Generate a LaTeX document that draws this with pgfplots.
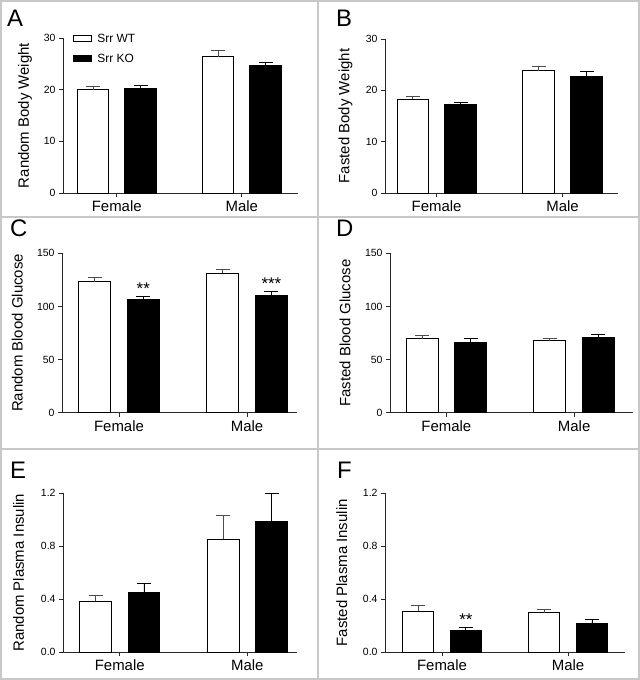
\documentclass[border=0pt]{standalone}
\usepackage{pgfplots}
\pgfplotsset{compat=1.18}
\usepackage{fontspec}
\setmainfont{Liberation Sans}
\definecolor{divider}{RGB}{200,200,200}
\definecolor{axisgray}{RGB}{40,40,40}
\pgfplotsset{
  panel/.style={
    scale only axis,
    anchor=south west,
    axis x line*=bottom, axis y line*=left,
    axis line style={axisgray, line width=0.9bp, -},
    xtick={0,1}, xticklabels={Female,Male},
    tick align=outside,
    major tick length=4bp,
    tick style={axisgray, line width=0.9bp},
    ymin=0,
    x tick label style={font=\fontsize{15}{15}\selectfont},
    y tick label style={font=\fontsize{10.5}{10.5}\selectfont},
    /pgf/number format/assume math mode=true,
    ylabel style={font=\fontsize{15}{15}\selectfont, anchor=center},
    clip=false,
  },
  wt/.style={ybar, bar width=0.25, bar shift=0pt, draw=black, fill=white, line width=0.9bp,
    error bars/y dir=plus, error bars/y explicit,
    error bars/error bar style={black!70, line width=0.9bp},
    error bars/error mark options={rotate=90, mark size=7bp, black!70, line width=0.9bp}},
  ko/.style={ybar, bar width=0.25, bar shift=0pt, draw=black, fill=black, line width=0.9bp,
    error bars/y dir=plus, error bars/y explicit,
    error bars/error bar style={black, line width=0.9bp},
    error bars/error mark options={rotate=90, mark size=7bp, black, line width=0.9bp}},
  dec/.style={yticklabel style={/pgf/number format/.cd, fixed, fixed zerofill, precision=1}},
}
\newcommand{\letterfont}{\fontsize{24}{24}\selectfont}
\newcommand{\starfont}{\fontsize{17}{17}\selectfont}
\begin{document}
\begin{tikzpicture}[x=1bp,y=1bp]
\useasboundingbox (0,0) rectangle (640,680);
% frame and dividers
\draw[divider, line width=2bp] (1,1) rectangle (638.5,678.5);
\draw[divider, line width=2bp] (318,1) -- (318,678.5);
\draw[divider, line width=2bp] (1,463) -- (638.5,463);
\draw[divider, line width=2bp] (1,231) -- (638.5,231);
% panel letters
\node[anchor=base west, inner sep=0, font=\letterfont] at (7,653.3) {A};
\node[anchor=base west, inner sep=0, font=\letterfont] at (336,653.3) {B};
\node[anchor=base west, inner sep=0, font=\letterfont] at (10,443) {C};
\node[anchor=base west, inner sep=0, font=\letterfont] at (336,443) {D};
\node[anchor=base west, inner sep=0, font=\letterfont] at (10,201.7) {E};
\node[anchor=base west, inner sep=0, font=\letterfont] at (337,201.7) {F};

% ---------- A ----------
\begin{axis}[panel, at={(63bp,487bp)}, width=235bp, height=155bp,
  xmin=-0.43, xmax=1.45, ymax=30, ytick={0,10,20,30},
  ylabel={Random Body Weight}, ylabel style={at={(axis description cs:-0.162,0.5)}},
  legend style={at={(axis description cs:0.04,1.04)}, anchor=north west, draw=none, fill=none,
    font=\fontsize{12}{12}\selectfont, row sep=6bp, column sep=4bp, inner sep=0pt},
  legend cell align=left]
\addplot[wt, /pgfplots/legend image code/.code={\draw[black, fill=white, line width=0.8bp] (0bp,-3bp) rectangle (18bp,3bp);}]
  coordinates {(-0.19,20.0) +- (0,0.6) (0.81,26.4) +- (0,1.1)};
\addlegendentry{Srr WT}
\addplot[ko, /pgfplots/legend image code/.code={\draw[black, fill=black, line width=0.8bp] (0bp,-3bp) rectangle (18bp,3bp);}]
  coordinates {(0.19,20.3) +- (0,0.6) (1.19,24.6) +- (0,0.7)};
\addlegendentry{Srr KO}
\end{axis}

% ---------- B ----------
\begin{axis}[panel, at={(385bp,487bp)}, width=233bp, height=154bp,
  xmin=-0.41, xmax=1.44, ymax=30, ytick={0,10,20,30},
  ylabel={Fasted Body Weight}, ylabel style={at={(axis description cs:-0.17,0.5)}}]
\addplot[wt] coordinates {(-0.19,18.25) +- (0,0.55) (0.81,23.8) +- (0,0.9)};
\addplot[ko] coordinates {(0.19,17.2) +- (0,0.5) (1.19,22.65) +- (0,0.95)};
\end{axis}

% ---------- C ----------
\begin{axis}[panel, at={(62bp,267.3bp)}, width=235bp, height=159.4bp,
  xmin=-0.445, xmax=1.39, ymax=150, ytick={0,50,100,150},
  ylabel={Random Blood Glucose}, ylabel style={at={(axis description cs:-0.19,0.5)}}]
\addplot[wt] coordinates {(-0.19,123.3) +- (0,4.1) (0.81,131.2) +- (0,4.0)};
\addplot[ko] coordinates {(0.19,106.7) +- (0,3.1) (1.19,110.5) +- (0,3.7)};
\node[anchor=base, font=\starfont] at (axis cs:0.19,111.2) {**};
\node[anchor=base, font=\starfont] at (axis cs:1.19,115.9) {***};
\end{axis}

% ---------- D ----------
\begin{axis}[panel, at={(390bp,267.3bp)}, width=243bp, height=159.4bp,
  xmin=-0.44, xmax=1.46, ymax=150, ytick={0,50,100,150},
  ylabel={Fasted Blood Glucose}, ylabel style={at={(axis description cs:-0.185,0.5)}}]
\addplot[wt] coordinates {(-0.19,69.6) +- (0,3.2) (0.81,67.8) +- (0,2.2)};
\addplot[ko] coordinates {(0.19,65.9) +- (0,3.7) (1.19,71.0) +- (0,3.0)};
\end{axis}

% ---------- E ----------
\begin{axis}[panel, dec, at={(63bp,27.7bp)}, width=234bp, height=159bp,
  xmin=-0.445, xmax=1.39, ymax=1.2, ytick={0,0.4,0.8,1.2},
  ylabel={Random Plasma Insulin}, ylabel style={at={(axis description cs:-0.19,0.5)}}]
\addplot[wt] coordinates {(-0.19,0.385) +- (0,0.047) (0.81,0.853) +- (0,0.181)};
\addplot[ko] coordinates {(0.19,0.448) +- (0,0.075) (1.19,0.986) +- (0,0.211)};
\end{axis}

% ---------- F ----------
\begin{axis}[panel, dec, at={(385bp,27.7bp)}, width=240bp, height=159bp,
  xmin=-0.452, xmax=1.452, ymax=1.2, ytick={0,0.4,0.8,1.2},
  ylabel={Fasted Plasma Insulin}, ylabel style={at={(axis description cs:-0.18,0.5)}}]
\addplot[wt] coordinates {(-0.19,0.309) +- (0,0.043) (0.81,0.297) +- (0,0.030)};
\addplot[ko] coordinates {(0.19,0.163) +- (0,0.028) (1.19,0.214) +- (0,0.035)};
\node[anchor=base, font=\starfont] at (axis cs:0.19,0.2045) {**};
\end{axis}
\end{tikzpicture}
\end{document}
